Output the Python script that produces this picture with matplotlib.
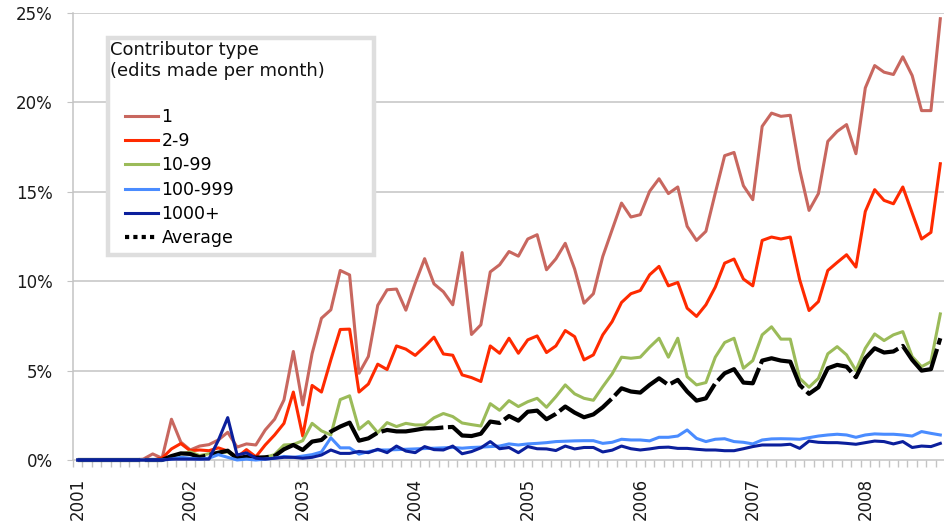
import numpy as np
import matplotlib
matplotlib.use("Agg")
import matplotlib.pyplot as plt
from matplotlib.lines import Line2D
from matplotlib.patches import Rectangle

plt.rcParams['font.family'] = ['DejaVu Sans']

# monthly share of edits reverted, Jan 2001 .. Sep 2008 (percent)
years = ['2001', '2002', '2003', '2004', '2005', '2006', '2007', '2008']

share_1 = [0, 0, 0, 0, 0, 0, 0, 0.05, 0.34, 0.1,
           2.28, 1.0, 0.56, 0.78, 0.86, 1.12, 1.55, 0.72, 0.9, 0.84,
           1.68, 2.28, 3.36, 6.07, 3.08, 5.95, 7.93, 8.4, 10.6, 10.35,
           4.85, 5.79, 8.65, 9.52, 9.56, 8.38, 9.89, 11.26, 9.85, 9.41,
           8.68, 11.6, 7.02, 7.56, 10.52, 10.92, 11.66, 11.4, 12.36, 12.6,
           10.64, 11.25, 12.12, 10.68, 8.77, 9.3, 11.38, 12.88, 14.37, 13.59,
           13.72, 15.03, 15.73, 14.9, 15.27, 13.07, 12.28, 12.79, 14.93, 17.02,
           17.2, 15.34, 14.56, 18.66, 19.4, 19.22, 19.28, 16.24, 13.96, 14.9,
           17.82, 18.38, 18.76, 17.13, 20.81, 22.06, 21.69, 21.56, 22.55, 21.5,
           19.54, 19.54, 24.68]

share_2_9 = [0, 0, 0, 0, 0, 0, 0, 0, 0, 0.1,
             0.62, 0.92, 0.52, 0.56, 0.52, 0.68, 0.5, 0.15, 0.58, 0.18,
             0.84, 1.4, 2.05, 3.8, 1.34, 4.17, 3.8, 5.6, 7.3, 7.32,
             3.8, 4.25, 5.36, 5.06, 6.38, 6.2, 5.85, 6.34, 6.87, 5.93,
             5.86, 4.76, 4.61, 4.39, 6.38, 5.97, 6.81, 5.97, 6.72, 6.94,
             6.01, 6.38, 7.24, 6.9, 5.6, 5.88, 7.0, 7.74, 8.81, 9.3,
             9.48, 10.36, 10.83, 9.74, 9.93, 8.49, 8.03, 8.68, 9.67, 11.01,
             11.24, 10.12, 9.74, 12.28, 12.47, 12.36, 12.47, 10.08, 8.36, 8.86,
             10.6, 11.05, 11.48, 10.79, 13.9, 15.12, 14.52, 14.33, 15.27, 13.81,
             12.36, 12.73, 16.57]

share_10_99 = [0, 0, 0, 0, 0, 0, 0, 0, 0, 0,
               0.1, 0.35, 0.45, 0.25, 0.35, 0.4, 0.45, 0.1, 0.2, 0.1,
               0.15, 0.3, 0.84, 0.87, 1.08, 2.05, 1.63, 1.4, 3.38, 3.59,
               1.72, 2.15, 1.53, 2.09, 1.87, 2.05, 1.96, 1.96, 2.36, 2.6,
               2.43, 2.07, 1.98, 1.9, 3.15, 2.78, 3.32, 2.99, 3.26, 3.45,
               2.95, 3.54, 4.2, 3.7, 3.45, 3.34, 4.1, 4.82, 5.75, 5.69,
               5.75, 6.31, 6.81, 5.75, 6.81, 4.66, 4.2, 4.33, 5.75, 6.57,
               6.81, 5.13, 5.56, 7.0, 7.45, 6.76, 6.76, 4.57, 4.07, 4.57,
               5.94, 6.34, 5.88, 5.0, 6.25, 7.05, 6.68, 7.0, 7.18, 5.78,
               5.22, 5.5, 8.17]

share_100_999 = [0, 0, 0, 0, 0, 0, 0, 0, 0, 0,
                 0.05, 0.15, 0.1, 0.05, 0.1, 0.3, 0.15, 0, 0.05, 0,
                 0.05, 0.1, 0.2, 0.15, 0.22, 0.3, 0.45, 1.24, 0.68, 0.68,
                 0.33, 0.47, 0.56, 0.56, 0.58, 0.6, 0.62, 0.64, 0.66, 0.68,
                 0.7, 0.66, 0.7, 0.72, 0.75, 0.78, 0.9, 0.84, 0.9, 0.93,
                 0.97, 1.03, 1.05, 1.07, 1.08, 1.08, 0.93, 0.99, 1.16, 1.12,
                 1.12, 1.07, 1.27, 1.27, 1.34, 1.68, 1.21, 1.03, 1.16, 1.19,
                 1.03, 0.99, 0.9, 1.12, 1.18, 1.19, 1.18, 1.16, 1.25, 1.34,
                 1.4, 1.44, 1.4, 1.27, 1.4, 1.46, 1.44, 1.44, 1.4, 1.34,
                 1.59, 1.49, 1.4]

share_1000 = [0, 0, 0, 0, 0, 0, 0, 0, 0, 0,
              0.05, 0.05, 0.05, 0.05, 0.05, 1.1, 2.37, 0.28, 0.4, 0.1,
              0.05, 0.1, 0.15, 0.15, 0.1, 0.15, 0.28, 0.56, 0.37, 0.37,
              0.48, 0.41, 0.6, 0.41, 0.78, 0.5, 0.41, 0.75, 0.58, 0.56,
              0.78, 0.35, 0.47, 0.68, 1.03, 0.63, 0.7, 0.41, 0.75, 0.63,
              0.62, 0.53, 0.78, 0.62, 0.7, 0.7, 0.45, 0.55, 0.78, 0.63,
              0.56, 0.62, 0.7, 0.72, 0.65, 0.65, 0.6, 0.56, 0.56, 0.52,
              0.52, 0.63, 0.75, 0.84, 0.84, 0.84, 0.88, 0.65, 1.06, 0.99,
              0.97, 0.97, 0.93, 0.88, 0.97, 1.06, 1.03, 0.9, 1.03, 0.7,
              0.78, 0.75, 0.93]

share_avg = [0, 0, 0, 0, 0, 0, 0, 0, 0, 0,
             0.22, 0.37, 0.34, 0.15, 0.28, 0.41, 0.52, 0.09, 0.19, 0.13,
             0.15, 0.22, 0.6, 0.84, 0.56, 1.03, 1.12, 1.59, 1.87, 2.09,
             1.08, 1.21, 1.53, 1.68, 1.6, 1.6, 1.68, 1.77, 1.77, 1.82,
             1.85, 1.37, 1.34, 1.47, 2.15, 2.07, 2.46, 2.2, 2.7, 2.76,
             2.28, 2.58, 2.99, 2.65, 2.39, 2.55, 2.95, 3.45, 4.01, 3.83,
             3.77, 4.2, 4.57, 4.2, 4.48, 3.83, 3.32, 3.45, 4.29, 4.85,
             5.08, 4.33, 4.29, 5.56, 5.69, 5.56, 5.5, 4.2, 3.7, 4.07,
             5.13, 5.32, 5.22, 4.63, 5.69, 6.25, 6.01, 6.07, 6.38, 5.6,
             5.0, 5.08, 6.81]

labels = ['1', '2-9', '10-99', '100-999', '1000+']
colors = ['#C8675F', '#FF2A00', '#9BBB59', '#4A8CFF', '#0B1F9C']
series = [share_1, share_2_9, share_10_99, share_100_999, share_1000]

months = np.arange(len(share_1))

fig = plt.figure(figsize=(9.45, 5.28), dpi=100)
ax = fig.add_axes([73/945, 68/528, 872/945, 447/528])

grey = '#c4c4c4'
for y in [5, 10, 15, 20, 25]:
    ax.axhline(y, color=grey, lw=1.1, zorder=0)

# coloured series first, then the average, then the two blues on top
for i in [0, 1, 2]:
    ax.plot(months, series[i], color=colors[i], lw=2.2, clip_on=False, zorder=2)
ax.plot(months, share_avg, color='black', lw=3.0, dashes=(15, 1.1),
        dash_capstyle='butt', clip_on=False, zorder=3)
for i in [3, 4]:
    ax.plot(months, series[i], color=colors[i], lw=2.2, clip_on=False, zorder=4)

ax.set_xlim(-0.5, len(months) - 0.5)
ax.set_ylim(0, 25)

ax.set_yticks([0, 5, 10, 15, 20, 25])
ax.set_yticklabels([f'{v}%' for v in [0, 5, 10, 15, 20, 25]], fontsize=12)
ax.tick_params(axis='y', length=4.5, color=grey, pad=10, labelcolor='#1a1a1a')

ax.set_xticks(np.arange(0, len(months), 12))
ax.set_xticklabels(years, rotation=90, fontsize=12, va='top')
ax.set_xticks(np.arange(-0.5, len(months) + 0.5, 1), minor=True)
ax.tick_params(axis='x', which='major', length=0, pad=13, labelcolor='#1a1a1a')
ax.tick_params(axis='x', which='minor', length=5, color=grey, width=1)

for s in ['top', 'right']:
    ax.spines[s].set_visible(False)
for s in ['left', 'bottom']:
    ax.spines[s].set_color(grey)
    ax.spines[s].set_linewidth(1.1)

# legend box with title
def ax_x(px):
    return (px - 73) / 872

def ax_y(py):
    return (460 - py) / 447

ax.add_patch(Rectangle((ax_x(108), ax_y(255)), ax_x(374) - ax_x(108), ax_y(38) - ax_y(255),
                       transform=ax.transAxes, facecolor='white', edgecolor='#dedede',
                       lw=3.2, zorder=5, clip_on=False))
ax.text(ax_x(110), ax_y(41), 'Contributor type\n(edits made per month)', transform=ax.transAxes,
        ha='left', va='top', fontsize=13, linespacing=1.25, color='#111111', zorder=6)

handles = [Line2D([], [], color=c, lw=2.2) for c in colors]
handles.append(Line2D([], [], color='black', lw=3, linestyle=(0, (1, 1)), dash_capstyle='butt'))
leg = ax.legend(handles, labels + ['Average'], loc='upper left',
                bbox_to_anchor=(ax_x(125), ax_y(108)), borderaxespad=0, borderpad=0,
                frameon=False, fontsize=12.5, handlelength=1.9, handletextpad=0.2,
                labelspacing=0.36)
leg.set_zorder(7)

fig.savefig('out.png', dpi=100)
